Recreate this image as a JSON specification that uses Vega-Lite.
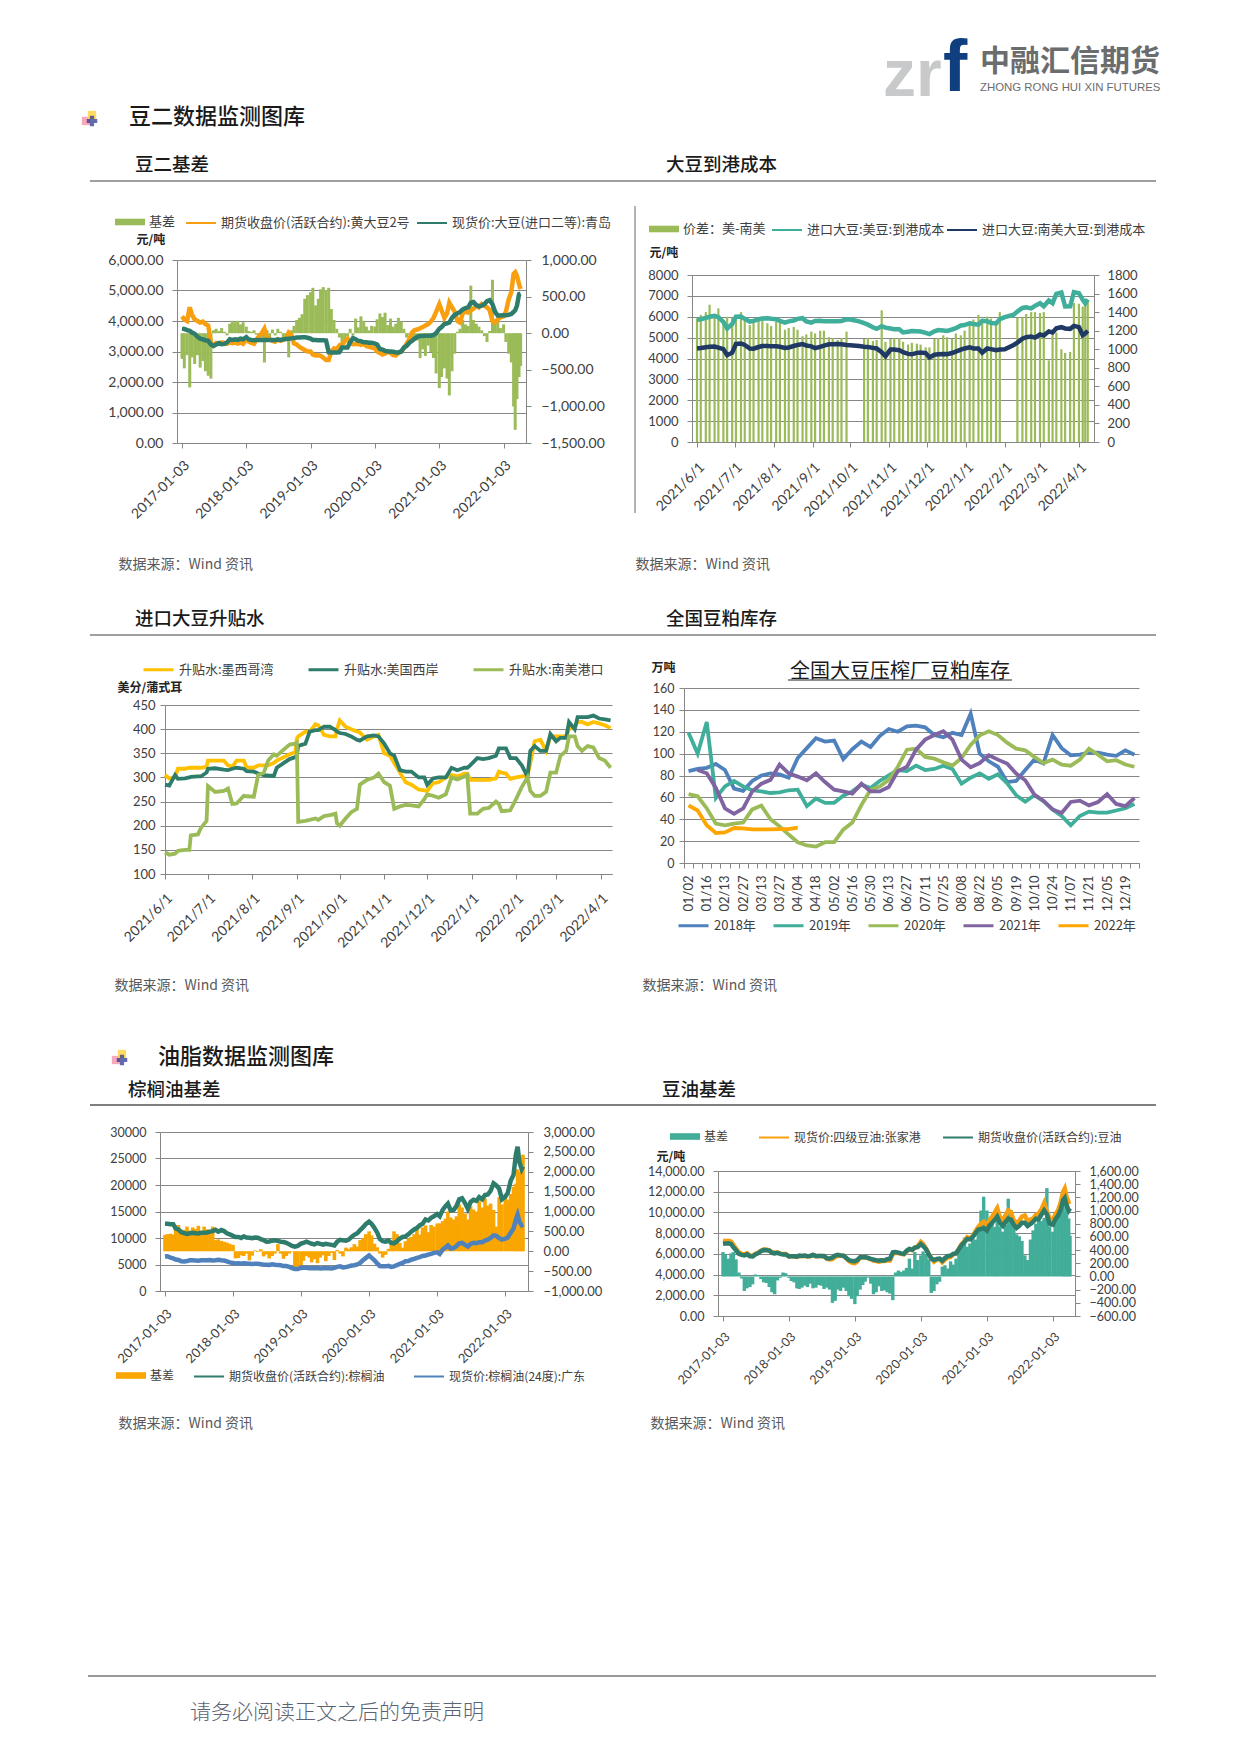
{"$schema":"https://vega.github.io/schema/vega-lite/v6.json","background":"white","padding":0,"bounds":"flush","spacing":0,"center":false,"resolve":{"scale":{"color":"independent"},"legend":{"color":"independent"}},
"config":{"view":{"stroke":null},"point":{"size":1,"strokeWidth":0},"title":{"anchor":"start","frame":"group","offset":0,"baseline":"middle","font":"Noto Sans CJK SC","color":"#1a1a1a","fontWeight":500},"axis":{"domainColor":"#868686","tickColor":"#868686","gridColor":"#868686","labelColor":"#404040","labelFont":"Lato","tickSize":5,"titleFont":"Noto Sans CJK SC","labelOverlap":false,"titleFontWeight":"normal","titleColor":"#595959","titleAlign":"left","titleBaseline":"middle"},"legend":{"title":null,"orient":"none","labelFont":"Noto Sans CJK SC","labelColor":"#404040","labelOffset":4,"symbolSize":900,"symbolStrokeWidth":2,"symbolType":"stroke","labelLimit":400}},
"vconcat":[
{"width":1,"height":1,"title":{"text":"中融汇信期货","subtitle":"ZHONG RONG HUI XIN FUTURES","dx":980,"dy":97,"fontSize":30,"fontWeight":700,"color":"#6B6C6E","subtitleFont":"Liberation Sans","subtitleFontSize":11.4,"subtitleColor":"#6B6C6E","subtitlePadding":4.5},"data":{"values":[{}]},"mark":{"type":"point","opacity":0},"encoding":{}},
{"width":1,"height":1,"title":{"text":"f","dx":943,"dy":167,"fontSize":73,"font":"Liberation Sans","fontWeight":700,"color":"#0F3F7F","baseline":"alphabetic"},"data":{"values":[{}]},"mark":{"type":"point","opacity":0},"encoding":{}},
{"width":1,"height":1,"title":{"text":"zr","dx":883,"dy":164,"fontSize":66,"font":"Liberation Sans","fontWeight":700,"color":"#C8C9CA","baseline":"alphabetic"},"data":{"values":[{}]},"mark":{"type":"point","opacity":0},"encoding":{}},
{"width":1,"height":1,"title":{"text":"豆二基差","dx":135,"dy":175,"fontSize":18.5},"data":{"values":[{}]},"mark":{"type":"point","opacity":0},"encoding":{}},
{"width":1,"height":1,"title":{"text":"大豆到港成本","dx":666,"dy":174,"fontSize":18.5},"data":{"values":[{}]},"mark":{"type":"point","opacity":0},"encoding":{}},
{"width":177,"height":176,"title":{"text":"豆二数据监测图库","dx":129,"dy":128,"fontSize":22},"resolve":{"scale":{"x":"independent","y":"independent","color":"independent"}},"layer":[
{"data":{"values":[{"a":0,"b":1}]},"mark":{"type":"rule","color":"#7F7F7F","strokeWidth":1.4},"encoding":{"x":{"field":"a","type":"quantitative","scale":{"domain":[0,1],"range":[90,1156]},"axis":null},"x2":{"field":"b"},"y":{"datum":0,"type":"quantitative","scale":{"domain":[0,1]},"axis":null}}},
{"data":{"values":[{"p":"pink"},{"p":"yellow"}]},"mark":{"type":"point","filled":true,"shape":"square","size":70,"opacity":0.85},"encoding":{"x":{"field":"p","type":"nominal","scale":{"type":"point","domain":["pink","yellow"],"range":[86,92],"padding":0},"axis":null},"y":{"field":"p","type":"nominal","scale":{"type":"point","domain":["pink","yellow"],"range":[116,110],"padding":0},"axis":null},"color":{"field":"p","type":"nominal","scale":{"domain":["pink","yellow"],"range":["#F49AB0","#FFD54A"]},"legend":null}}},
{"data":{"values":[{"p":"blue"}]},"mark":{"type":"point","filled":true,"shape":"cross","size":110,"color":"#1F2D8A"},"encoding":{"x":{"field":"p","type":"nominal","scale":{"type":"point","domain":["blue"],"range":[92,92],"padding":0},"axis":null},"y":{"field":"p","type":"nominal","scale":{"type":"point","domain":["blue"],"range":[116,116],"padding":0},"axis":null}}}]},
{"width":1,"height":1,"data":{"values":[{"a":0,"b":1}]},"mark":{"type":"rule","color":"#808080","strokeWidth":1.2},"encoding":{"x":{"datum":0,"type":"quantitative","scale":{"domain":[0,1],"range":[635,636]},"axis":null},"y":{"field":"a","type":"quantitative","scale":{"domain":[0,1],"range":[25,332]},"axis":null},"y2":{"field":"b"}}},
{"width":1,"height":78,"data":{"values":[{}]},"mark":{"type":"point","opacity":0},"encoding":{}},
{"hconcat":[{"width":177,"height":1,"data":{"values":[{}]},"mark":{"type":"point","opacity":0},"encoding":{}},
{"width":349,"height":183,"data":{"values":[
{"d":"2017-01-03","a":-350,"b":4150,"c":3750},{"d":"2017-01-16","a":-480,"b":4050,"c":3740},{"d":"2017-02-01","a":-300,"b":4000,"c":3700},{"d":"2017-02-16","a":-740,"b":4450,"c":3680},{"d":"2017-03-01","a":-330,"b":4200,"c":3620},{"d":"2017-03-16","a":-420,"b":4050,"c":3580},{"d":"2017-04-01","a":-300,"b":4000,"c":3480},{"d":"2017-04-16","a":-470,"b":3950,"c":3420},{"d":"2017-05-01","a":-380,"b":3980,"c":3400},{"d":"2017-05-16","a":-520,"b":3900,"c":3370},{"d":"2017-06-01","a":-580,"b":3850,"c":3350},{"d":"2017-06-16","a":-620,"b":3300,"c":3230},{"d":"2017-07-01","a":40,"b":3200,"c":3180},{"d":"2017-07-16","a":60,"b":3280,"c":3230},{"d":"2017-08-01","a":30,"b":3250,"c":3280},{"d":"2017-08-16","a":70,"b":3300,"c":3240},{"d":"2017-09-01","a":20,"b":3280,"c":3250},{"d":"2017-09-16","a":-30,"b":3250,"c":3300},{"d":"2017-10-01","a":130,"b":3300,"c":3400},{"d":"2017-10-16","a":170,"b":3270,"c":3380},{"d":"2017-11-01","a":150,"b":3290,"c":3400},{"d":"2017-11-16","a":170,"b":3260,"c":3380},{"d":"2017-12-01","a":120,"b":3300,"c":3420},{"d":"2017-12-16","a":150,"b":3250,"c":3400},
{"d":"2018-01-03","a":90,"b":3400,"c":3470},{"d":"2018-01-16","a":30,"b":3320,"c":3400},{"d":"2018-02-01","a":20,"b":3280,"c":3380},{"d":"2018-02-16","a":40,"b":3250,"c":3370},{"d":"2018-03-01","a":-20,"b":3380,"c":3380},{"d":"2018-03-16","a":-40,"b":3500,"c":3380},{"d":"2018-04-01","a":-60,"b":3600,"c":3380},{"d":"2018-04-16","a":-400,"b":3750,"c":3380},{"d":"2018-05-01","a":40,"b":3450,"c":3380},{"d":"2018-05-16","a":-60,"b":3400,"c":3380},{"d":"2018-06-01","a":50,"b":3350,"c":3380},{"d":"2018-06-16","a":-30,"b":3320,"c":3380},{"d":"2018-07-01","a":60,"b":3400,"c":3390},{"d":"2018-07-16","a":20,"b":3350,"c":3380},{"d":"2018-08-01","a":-50,"b":3380,"c":3400},{"d":"2018-08-16","a":-100,"b":3430,"c":3410},{"d":"2018-09-01","a":-330,"b":3620,"c":3420},{"d":"2018-09-16","a":40,"b":3550,"c":3430},{"d":"2018-10-01","a":100,"b":3260,"c":3440},{"d":"2018-10-16","a":180,"b":3230,"c":3460},{"d":"2018-11-01","a":210,"b":3150,"c":3460},{"d":"2018-11-16","a":260,"b":3100,"c":3470},{"d":"2018-12-01","a":470,"b":3050,"c":3470},{"d":"2018-12-16","a":520,"b":3000,"c":3450},
{"d":"2019-01-03","a":560,"b":3000,"c":3420},{"d":"2019-01-16","a":620,"b":2900,"c":3380},{"d":"2019-02-01","a":380,"b":2870,"c":3380},{"d":"2019-02-16","a":470,"b":2880,"c":3370},{"d":"2019-03-01","a":600,"b":2860,"c":3370},{"d":"2019-03-16","a":630,"b":2800,"c":3370},{"d":"2019-04-01","a":590,"b":2720,"c":3360},{"d":"2019-04-16","a":620,"b":2720,"c":2980},{"d":"2019-05-01","a":330,"b":3000,"c":2970},{"d":"2019-05-16","a":180,"b":3100,"c":2970},{"d":"2019-06-01","a":60,"b":3070,"c":2970},{"d":"2019-06-16","a":-60,"b":3200,"c":2980},{"d":"2019-07-01","a":-150,"b":3230,"c":3130},{"d":"2019-07-16","a":-100,"b":3330,"c":3130},{"d":"2019-08-01","a":-40,"b":3420,"c":3130},{"d":"2019-08-16","a":60,"b":3280,"c":3300},{"d":"2019-09-01","a":-30,"b":3240,"c":3440},{"d":"2019-09-16","a":200,"b":3250,"c":3400},{"d":"2019-10-01","a":80,"b":3250,"c":3350},{"d":"2019-10-16","a":230,"b":3220,"c":3340},{"d":"2019-11-01","a":170,"b":3260,"c":3300},{"d":"2019-11-16","a":90,"b":3180,"c":3300},{"d":"2019-12-01","a":40,"b":3150,"c":3290},{"d":"2019-12-16","a":100,"b":3130,"c":3290},
{"d":"2020-01-03","a":90,"b":3100,"c":3260},{"d":"2020-01-16","a":190,"b":3000,"c":3230},{"d":"2020-02-01","a":270,"b":2950,"c":3080},{"d":"2020-02-16","a":220,"b":2900,"c":3060},{"d":"2020-03-01","a":280,"b":2930,"c":3020},{"d":"2020-03-16","a":110,"b":3000,"c":3000},{"d":"2020-04-01","a":200,"b":2950,"c":3000},{"d":"2020-04-16","a":90,"b":2880,"c":2990},{"d":"2020-05-01","a":130,"b":2870,"c":2970},{"d":"2020-05-16","a":210,"b":2950,"c":2970},{"d":"2020-06-01","a":160,"b":3000,"c":3000},{"d":"2020-06-16","a":60,"b":3100,"c":3130},{"d":"2020-07-01","a":-60,"b":3250,"c":3180},{"d":"2020-07-16","a":-20,"b":3400,"c":3280},{"d":"2020-08-01","a":-130,"b":3620,"c":3350},{"d":"2020-08-16","a":-70,"b":3700,"c":3420},{"d":"2020-09-01","a":-100,"b":3720,"c":3480},{"d":"2020-09-16","a":-340,"b":3760,"c":3510},{"d":"2020-10-01","a":-220,"b":3800,"c":3510},{"d":"2020-10-16","a":-310,"b":3850,"c":3520},{"d":"2020-11-01","a":-170,"b":3900,"c":3520},{"d":"2020-11-16","a":-260,"b":3980,"c":3520},{"d":"2020-12-01","a":-340,"b":4100,"c":3540},{"d":"2020-12-16","a":-550,"b":4300,"c":3600},
{"d":"2021-01-03","a":-750,"b":4550,"c":3740},{"d":"2021-01-16","a":-600,"b":4350,"c":3800},{"d":"2021-02-01","a":-480,"b":4100,"c":3900},{"d":"2021-02-16","a":-620,"b":4250,"c":3920},{"d":"2021-03-01","a":-850,"b":4600,"c":3950},{"d":"2021-03-16","a":-520,"b":4450,"c":4100},{"d":"2021-04-01","a":-280,"b":4300,"c":4200},{"d":"2021-04-16","a":20,"b":4000,"c":4250},{"d":"2021-05-01","a":60,"b":3950,"c":4300},{"d":"2021-05-16","a":180,"b":4250,"c":4380},{"d":"2021-06-01","a":120,"b":4300,"c":4420},{"d":"2021-06-16","a":100,"b":4280,"c":4450},{"d":"2021-07-01","a":650,"b":4350,"c":4600},{"d":"2021-07-16","a":180,"b":4400,"c":4620},{"d":"2021-08-01","a":130,"b":4500,"c":4520},{"d":"2021-08-16","a":90,"b":4450,"c":4480},{"d":"2021-09-01","a":40,"b":4560,"c":4500},{"d":"2021-09-16","a":-40,"b":4500,"c":4550},{"d":"2021-10-01","a":-120,"b":4450,"c":4650},{"d":"2021-10-16","a":30,"b":4350,"c":4680},{"d":"2021-11-01","a":730,"b":4000,"c":4550},{"d":"2021-11-16","a":160,"b":3950,"c":4300},{"d":"2021-12-01","a":170,"b":4050,"c":4180},{"d":"2021-12-16","a":70,"b":4120,"c":4180},
{"d":"2022-01-03","a":120,"b":4150,"c":4190},{"d":"2022-01-16","a":-120,"b":4300,"c":4190},{"d":"2022-02-01","a":-280,"b":4700,"c":4200},{"d":"2022-02-16","a":-400,"b":4950,"c":4230},{"d":"2022-03-01","a":-1000,"b":5550,"c":4300},{"d":"2022-03-10","a":-1320,"b":5600,"c":4350},{"d":"2022-03-20","a":-900,"b":5480,"c":4500},{"d":"2022-04-01","a":-600,"b":5200,"c":4880},{"d":"2022-04-10","a":-450,"b":5050,"c":4900}]},
"encoding":{"x":{"field":"d","type":"temporal","scale":{"domain":["2017-01-03","2022-04-12"],"nice":false},"axis":{"values":["2017-01-03","2018-01-03","2019-01-03","2020-01-03","2021-01-03","2022-01-03"],"format":"%Y-%m-%d","labelAngle":-45,"labelFontSize":14,"labelPadding":10,"grid":false,"title":"数据来源：Wind 资讯","titleX":-59,"titleY":121,"titleFontSize":14}}},
"resolve":{"scale":{"y":"independent","color":"independent"},"legend":{"color":"independent"}},
"layer":[
{"mark":{"type":"bar","width":3},"encoding":{"y":{"field":"a","type":"quantitative","scale":{"domain":[-1500,1000],"nice":false},"axis":{"orient":"right","values":[-1500,-1000,-500,0,500,1000],"format":",.2f","labelFontSize":14,"labelPadding":10,"grid":false,"title":null}},"color":{"datum":"基差","scale":{"domain":["基差"],"range":["#9BBB59"]},"legend":{"legendX":-62,"legendY":-53,"symbolType":"M-1,-0.22H1V0.22H-1Z","symbolStrokeWidth":0,"labelFontSize":13}}}},
{"mark":{"type":"line","strokeWidth":4.5},"encoding":{"y":{"field":"b","type":"quantitative","scale":{"domain":[0,6000],"nice":false},"axis":{"orient":"left","values":[0,1000,2000,3000,4000,5000,6000],"format":",.2f","labelFontSize":14,"labelPadding":9,"grid":true,"title":"元/吨","titleAngle":0,"titleX":-41,"titleY":-21,"titleFontSize":12,"titleFontWeight":"bold","titleColor":"#222222"}},"color":{"datum":"期货收盘价(活跃合约):黄大豆2号","scale":{"domain":["期货收盘价(活跃合约):黄大豆2号"],"range":["#F79F0F"]},"legend":{"legendX":8,"legendY":-53,"labelFontSize":13}}}},
{"mark":{"type":"line","strokeWidth":4.5},"encoding":{"y":{"field":"c","type":"quantitative","scale":{"domain":[0,6000],"nice":false},"axis":null},"color":{"datum":"现货价:大豆(进口二等):青岛","scale":{"domain":["现货价:大豆(进口二等):青岛"],"range":["#2E7C6B"]},"legend":{"legendX":239,"legendY":-53,"labelFontSize":13}}}}]}],"bounds":"flush","spacing":0,"resolve":{"scale":{"color":"independent"},"legend":{"color":"independent"}}},
{"width":1,"height":15,"data":{"values":[{}]},"mark":{"type":"point","opacity":0},"encoding":{}},
{"hconcat":[{"width":692,"height":1,"data":{"values":[{}]},"mark":{"type":"point","opacity":0},"encoding":{}},
{"width":402,"height":167,"data":{"values":[
{"d":"2021-06-01","a":1330,"b":5850,"c":4480},{"d":"2021-06-04","a":1370,"b":5880,"c":4500},{"d":"2021-06-08","a":1400,"b":5950,"c":4540},{"d":"2021-06-11","a":1480,"b":6000,"c":4560},{"d":"2021-06-15","a":1360,"b":6040,"c":4570},{"d":"2021-06-18","a":1440,"b":5980,"c":4520},{"d":"2021-06-22","a":1300,"b":5750,"c":4450},{"d":"2021-06-25","a":1350,"b":5440,"c":4160},{"d":"2021-06-29","a":1340,"b":5650,"c":4280},{"d":"2021-07-02","a":1340,"b":6000,"c":4700},{"d":"2021-07-06","a":1400,"b":6010,"c":4720},{"d":"2021-07-09","a":1310,"b":5900,"c":4650},{"d":"2021-07-13","a":1260,"b":5770,"c":4480},{"d":"2021-07-16","a":1290,"b":5800,"c":4470},{"d":"2021-07-20","a":1330,"b":5880,"c":4550},{"d":"2021-07-23","a":1320,"b":5920,"c":4600},{"d":"2021-07-27","a":1280,"b":5930,"c":4600},{"d":"2021-07-30","a":1250,"b":5900,"c":4590},{"d":"2021-08-03","a":1300,"b":5880,"c":4590},{"d":"2021-08-06","a":1290,"b":5800,"c":4560},{"d":"2021-08-10","a":1210,"b":5720,"c":4510},{"d":"2021-08-13","a":1230,"b":5780,"c":4530},{"d":"2021-08-17","a":1240,"b":5820,"c":4600},{"d":"2021-08-20","a":1210,"b":5900,"c":4650},{"d":"2021-08-24","a":1140,"b":5930,"c":4690},{"d":"2021-08-27","a":1160,"b":5780,"c":4620},{"d":"2021-08-31","a":1190,"b":5720,"c":4580},{"d":"2021-09-03","a":1170,"b":5800,"c":4500},{"d":"2021-09-07","a":1200,"b":5810,"c":4560},{"d":"2021-09-10","a":1200,"b":5780,"c":4620},{"d":"2021-09-14","a":1130,"b":5790,"c":4680},{"d":"2021-09-17","a":1120,"b":5780,"c":4680},{"d":"2021-09-21","a":1100,"b":5790,"c":4690},{"d":"2021-09-24","a":1120,"b":5800,"c":4680},{"d":"2021-09-28","a":1190,"b":5880,"c":4650},{"d":"2021-10-01","a":null,"b":5870,"c":4640},{"d":"2021-10-08","a":null,"b":5780,"c":4600},{"d":"2021-10-12","a":1110,"b":5690,"c":4560},{"d":"2021-10-15","a":1120,"b":5620,"c":4550},{"d":"2021-10-19","a":1090,"b":5500,"c":4510},{"d":"2021-10-22","a":1100,"b":5420,"c":4480},{"d":"2021-10-26","a":1420,"b":5550,"c":4300},{"d":"2021-10-29","a":1080,"b":5480,"c":4110},{"d":"2021-11-02","a":1110,"b":5440,"c":4430},{"d":"2021-11-05","a":1120,"b":5400,"c":4430},{"d":"2021-11-09","a":1120,"b":5400,"c":4400},{"d":"2021-11-12","a":1080,"b":5250,"c":4300},{"d":"2021-11-16","a":1050,"b":5280,"c":4220},{"d":"2021-11-19","a":1070,"b":5320,"c":4200},{"d":"2021-11-23","a":1060,"b":5310,"c":4270},{"d":"2021-11-26","a":1050,"b":5290,"c":4290},{"d":"2021-11-30","a":1020,"b":5230,"c":4260},{"d":"2021-12-03","a":1020,"b":5170,"c":4050},{"d":"2021-12-07","a":1110,"b":5300,"c":4180},{"d":"2021-12-10","a":1120,"b":5360,"c":4200},{"d":"2021-12-14","a":1150,"b":5340,"c":4220},{"d":"2021-12-17","a":1130,"b":5320,"c":4210},{"d":"2021-12-21","a":1110,"b":5390,"c":4260},{"d":"2021-12-24","a":1170,"b":5450,"c":4330},{"d":"2021-12-28","a":1150,"b":5580,"c":4420},{"d":"2021-12-31","a":1200,"b":5600,"c":4480},{"d":"2022-01-04","a":1300,"b":5690,"c":4540},{"d":"2022-01-07","a":1320,"b":5650,"c":4480},{"d":"2022-01-11","a":1370,"b":5620,"c":4480},{"d":"2022-01-14","a":1300,"b":5810,"c":4280},{"d":"2022-01-18","a":1350,"b":5790,"c":4480},{"d":"2022-01-21","a":1330,"b":5700,"c":4450},{"d":"2022-01-25","a":1280,"b":5680,"c":4400},{"d":"2022-01-28","a":1400,"b":5880,"c":4430},{"d":"2022-02-01","a":null,"b":5980,"c":4440},{"d":"2022-02-08","a":null,"b":6100,"c":4650},{"d":"2022-02-11","a":1340,"b":6250,"c":4760},{"d":"2022-02-15","a":1350,"b":6420,"c":4950},{"d":"2022-02-18","a":1380,"b":6450,"c":5020},{"d":"2022-02-22","a":1400,"b":6400,"c":5050},{"d":"2022-02-25","a":1400,"b":6520,"c":5000},{"d":"2022-03-01","a":1390,"b":6650,"c":5150},{"d":"2022-03-04","a":1400,"b":6500,"c":5100},{"d":"2022-03-08","a":880,"b":6780,"c":5300},{"d":"2022-03-11","a":1200,"b":6650,"c":5250},{"d":"2022-03-14","a":1180,"b":7100,"c":5450},{"d":"2022-03-18","a":1000,"b":7160,"c":5500},{"d":"2022-03-21","a":960,"b":6490,"c":5440},{"d":"2022-03-25","a":970,"b":6500,"c":5420},{"d":"2022-03-28","a":1500,"b":7180,"c":5560},{"d":"2022-04-01","a":1490,"b":7130,"c":5500},{"d":"2022-04-04","a":1460,"b":6810,"c":5120},{"d":"2022-04-06","a":1490,"b":6650,"c":5200},{"d":"2022-04-08","a":1530,"b":6840,"c":5330}]},
"encoding":{"x":{"field":"d","type":"temporal","scale":{"domain":["2021-06-01","2022-04-09"],"nice":false},"axis":{"values":["2021-06-01","2021-07-01","2021-08-01","2021-09-01","2021-10-01","2021-11-01","2021-12-01","2022-01-01","2022-02-01","2022-03-01","2022-04-01"],"format":"%Y/%-m/%-d","labelAngle":-45,"labelFontSize":14,"labelPadding":13,"grid":false,"title":"数据来源：Wind 资讯","titleX":-57,"titleY":122,"titleFontSize":14}}},
"resolve":{"scale":{"y":"independent","color":"independent"},"legend":{"color":"independent"}},
"layer":[
{"mark":{"type":"bar","width":2.2},"encoding":{"y":{"field":"a","type":"quantitative","scale":{"domain":[0,1800],"nice":false},"axis":{"orient":"right","values":[0,200,400,600,800,1000,1200,1400,1600,1800],"labelFontSize":13,"labelPadding":8,"grid":false,"title":null,"format":"d"}},"color":{"datum":"价差：美-南美","scale":{"domain":["价差：美-南美"],"range":["#9BBB59"]},"legend":{"legendX":-43,"legendY":-61,"symbolType":"M-1,-0.22H1V0.22H-1Z","symbolStrokeWidth":0,"labelFontSize":13}}}},
{"mark":{"type":"line","strokeWidth":4.5},"encoding":{"y":{"field":"b","type":"quantitative","scale":{"domain":[0,8000],"nice":false},"axis":{"orient":"left","values":[0,1000,2000,3000,4000,5000,6000,7000,8000],"format":"d","labelFontSize":13,"labelPadding":9,"grid":true,"title":"元/吨","titleAngle":0,"titleX":-43,"titleY":-23,"titleFontSize":12,"titleFontWeight":"bold","titleColor":"#222222"}},"color":{"datum":"进口大豆:美豆:到港成本","scale":{"domain":["进口大豆:美豆:到港成本"],"range":["#3FAE9A"]},"legend":{"legendX":79,"legendY":-61,"labelFontSize":13}}}},
{"mark":{"type":"line","strokeWidth":4.5},"encoding":{"y":{"field":"c","type":"quantitative","scale":{"domain":[0,8000],"nice":false},"axis":null},"color":{"datum":"进口大豆:南美大豆:到港成本","scale":{"domain":["进口大豆:南美大豆:到港成本"],"range":["#1F3864"]},"legend":{"legendX":254,"legendY":-61,"labelFontSize":13}}}}]}],"bounds":"flush","spacing":0,"resolve":{"scale":{"color":"independent"},"legend":{"color":"independent"}}},
{"width":1,"height":1,"title":{"text":"全国豆粕库存","dx":666,"dy":357,"fontSize":18.5},"data":{"values":[{}]},"mark":{"type":"point","opacity":0},"encoding":{}},
{"width":165,"height":359,"title":{"text":"进口大豆升贴水","dx":135,"dy":356,"fontSize":18.5},"resolve":{"scale":{"x":"independent","y":"independent"}},"data":{"values":[{"a":0,"b":1}]},"mark":{"type":"rule","color":"#7F7F7F","strokeWidth":1.4},"encoding":{"x":{"field":"a","type":"quantitative","scale":{"domain":[0,1],"range":[90,1156]},"axis":null},"x2":{"field":"b"},"y":{"datum":0,"type":"quantitative","scale":{"domain":[0,1]},"axis":null}}},
{"width":1,"height":1,"title":{"text":"全国大豆压榨厂豆粕库存","dx":900,"dy":51,"fontSize":20,"align":"center","fontWeight":400},"data":{"values":[{"a":0,"b":1}]},"mark":{"type":"rule","color":"#222222","strokeWidth":1.2},"encoding":{"x":{"field":"a","type":"quantitative","scale":{"domain":[0,1],"range":[788,1012]},"axis":null},"x2":{"field":"b"},"y":{"datum":0,"type":"quantitative","scale":{"domain":[0,1],"range":[45,46]},"axis":null}}},
{"width":1,"height":52,"data":{"values":[{}]},"mark":{"type":"point","opacity":0},"encoding":{}},
{"hconcat":[{"width":684,"height":1,"data":{"values":[{}]},"mark":{"type":"point","opacity":0},"encoding":{}},
{"width":455,"height":175,"data":{"values":[
{"w":"01/02","p":84,"q":119,"r":63,"s":null,"u":52.7},{"w":"01/09","p":86,"q":100,"r":61,"s":85,"u":48},{"w":"01/16","p":87,"q":129,"r":50,"s":82,"u":34.5},{"w":"01/23","p":90.5,"q":59.5,"r":36,"s":68.6,"u":27.4},{"w":"02/13","p":85,"q":70,"r":34.5,"s":50,"u":28},{"w":"02/20","p":68,"q":75,"r":36,"s":45,"u":32},{"w":"02/27","p":66,"q":70,"r":37,"s":50,"u":31.7},{"w":"03/06","p":75,"q":66.5,"r":49,"s":65.5,"u":30.8},{"w":"03/13","p":80,"q":65.5,"r":52.5,"s":72.5,"u":30.8},{"w":"03/20","p":82,"q":64,"r":40,"s":76,"u":30.8},{"w":"03/27","p":81,"q":64.6,"r":33.5,"s":90,"u":31},{"w":"03/30","p":78,"q":66.5,"r":26,"s":82,"u":31},{"w":"04/04","p":96,"q":67,"r":19,"s":79,"u":32.3},{"w":"04/11","p":105,"q":52,"r":16,"s":75.6,"u":null},{"w":"04/18","p":114,"q":59,"r":15,"s":82,"u":null},{"w":"04/25","p":111,"q":55,"r":19,"s":74,"u":null},{"w":"05/02","p":112,"q":55,"r":19,"s":67,"u":null},{"w":"05/09","p":95,"q":61.5,"r":30.5,"s":65.5,"u":null},{"w":"05/16","p":104,"q":65.5,"r":37,"s":63.4,"u":null},{"w":"05/23","p":111,"q":71.6,"r":53,"s":72.5,"u":null},{"w":"05/30","p":106,"q":68.5,"r":67,"s":65.5,"u":null},{"w":"06/06","p":116,"q":75,"r":70,"s":65.5,"u":null},{"w":"06/13","p":122.5,"q":80,"r":76,"s":69.5,"u":null},{"w":"06/20","p":120,"q":85,"r":88,"s":84,"u":null},{"w":"06/27","p":125,"q":84,"r":103.6,"s":88,"u":null},{"w":"07/04","p":125.6,"q":89,"r":104.5,"s":103.6,"u":null},{"w":"07/11","p":124,"q":85,"r":97,"s":112.8,"u":null},{"w":"07/18","p":117,"q":86,"r":95.4,"s":117,"u":null},{"w":"07/25","p":115,"q":89,"r":92,"s":120.4,"u":null},{"w":"08/01","p":119,"q":86,"r":89,"s":112.8,"u":null},{"w":"08/08","p":117,"q":72.5,"r":96,"s":94.5,"u":null},{"w":"08/15","p":136.5,"q":78,"r":108,"s":87.5,"u":null},{"w":"08/22","p":100,"q":82,"r":116.7,"s":91.4,"u":null},{"w":"08/29","p":93,"q":77,"r":120.4,"s":98.5,"u":null},{"w":"09/05","p":88,"q":81,"r":117,"s":94.5,"u":null},{"w":"09/12","p":74,"q":73,"r":110,"s":91,"u":null},{"w":"09/19","p":75,"q":62,"r":104.5,"s":81.7,"u":null},{"w":"09/26","p":85,"q":56,"r":103,"s":75.6,"u":null},{"w":"10/10","p":94.5,"q":62,"r":97,"s":62.5,"u":null},{"w":"10/17","p":91,"q":56.5,"r":91.4,"s":57,"u":null},{"w":"10/24","p":117,"q":49,"r":94.5,"s":49,"u":null},{"w":"10/31","p":105,"q":43,"r":90,"s":45.7,"u":null},{"w":"11/07","p":98.5,"q":34.5,"r":89,"s":55.8,"u":null},{"w":"11/14","p":99,"q":43,"r":94.5,"s":57,"u":null},{"w":"11/21","p":101,"q":47,"r":104.5,"s":52.7,"u":null},{"w":"11/28","p":101,"q":46,"r":99,"s":55.8,"u":null},{"w":"12/05","p":99,"q":46,"r":93,"s":63,"u":null},{"w":"12/12","p":98,"q":48,"r":94,"s":54,"u":null},{"w":"12/19","p":103,"q":50,"r":90,"s":52,"u":null},{"w":"12/26","p":99,"q":54,"r":88,"s":59.4,"u":null}]},
"encoding":{"x":{"field":"w","type":"nominal","sort":null,"scale":{"type":"band","paddingInner":0,"paddingOuter":0},"axis":{"tickBand":"extent","labelAngle":-90,"labelFontSize":13,"labelPadding":7,"grid":false,"labelExpr":"indexof('01/02,01/16,02/13,02/27,03/13,03/27,04/04,04/18,05/02,05/16,05/30,06/13,06/27,07/11,07/25,08/08,08/22,09/05,09/19,10/10,10/24,11/07,11/21,12/05,12/19',datum.label)>=0?datum.label:''","title":"数据来源：Wind 资讯","titleX":-42,"titleY":122,"titleFontSize":14}}},
"resolve":{"scale":{"y":"independent"}},
"layer":[
{"mark":{"type":"line","strokeWidth":3.8},"encoding":{"y":{"field":"p","type":"quantitative","scale":{"domain":[0,160],"nice":false},"axis":{"values":[0,20,40,60,80,100,120,140,160],"labelFontSize":12.5,"labelPadding":5,"grid":true,"title":"万吨","titleAngle":0,"titleX":-33,"titleY":-21,"titleFontSize":12,"titleFontWeight":"bold","titleColor":"#222222"}},"color":{"datum":"2018年","scale":{"domain":["2018年","2019年","2020年","2021年","2022年"],"range":["#4F81BD","#3FAE9A","#9BBB59","#8064A2","#FFA500"]},"legend":{"legendX":-7,"legendY":221,"direction":"horizontal","columns":5,"columnPadding":11,"labelFontSize":13,"symbolStrokeWidth":3}}}},
{"mark":{"type":"line","strokeWidth":3.8},"encoding":{"y":{"field":"q","type":"quantitative","scale":{"domain":[0,160],"nice":false},"axis":null},"color":{"datum":"2019年","scale":{"domain":["2018年","2019年","2020年","2021年","2022年"],"range":["#4F81BD","#3FAE9A","#9BBB59","#8064A2","#FFA500"]}}}},
{"mark":{"type":"line","strokeWidth":3.8},"encoding":{"y":{"field":"r","type":"quantitative","scale":{"domain":[0,160],"nice":false},"axis":null},"color":{"datum":"2020年","scale":{"domain":["2018年","2019年","2020年","2021年","2022年"],"range":["#4F81BD","#3FAE9A","#9BBB59","#8064A2","#FFA500"]}}}},
{"mark":{"type":"line","strokeWidth":3.8},"encoding":{"y":{"field":"s","type":"quantitative","scale":{"domain":[0,160],"nice":false},"axis":null},"color":{"datum":"2021年","scale":{"domain":["2018年","2019年","2020年","2021年","2022年"],"range":["#4F81BD","#3FAE9A","#9BBB59","#8064A2","#FFA500"]}}}},
{"mark":{"type":"line","strokeWidth":3.8},"encoding":{"y":{"field":"u","type":"quantitative","scale":{"domain":[0,160],"nice":false},"axis":null},"color":{"datum":"2022年","scale":{"domain":["2018年","2019年","2020年","2021年","2022年"],"range":["#4F81BD","#3FAE9A","#9BBB59","#8064A2","#FFA500"]}}}}]}],"bounds":"flush","spacing":0,"resolve":{"scale":{"color":"independent"},"legend":{"color":"independent"}}},
{"width":1,"height":17,"data":{"values":[{}]},"mark":{"type":"point","opacity":0},"encoding":{}},
{"hconcat":[{"width":165,"height":1,"data":{"values":[{}]},"mark":{"type":"point","opacity":0},"encoding":{}},
{"width":447,"height":169,"data":{"values":[
{"d":"2021-06-01","y":305,"t":285,"g":145},{"d":"2021-06-04","y":298,"t":283,"g":140},{"d":"2021-06-08","y":300,"t":305,"g":142},{"d":"2021-06-10","y":318,"t":297,"g":148},{"d":"2021-06-15","y":318,"t":298,"g":150},{"d":"2021-06-18","y":320,"t":300,"g":150},{"d":"2021-06-19","y":320,"t":301,"g":180},{"d":"2021-06-24","y":320,"t":302,"g":182},{"d":"2021-06-26","y":320,"t":302,"g":195},{"d":"2021-06-30","y":322,"t":310,"g":210},{"d":"2021-07-01","y":335,"t":318,"g":282},{"d":"2021-07-06","y":335,"t":319,"g":270},{"d":"2021-07-12","y":335,"t":316,"g":272},{"d":"2021-07-15","y":325,"t":315,"g":277},{"d":"2021-07-18","y":322,"t":318,"g":245},{"d":"2021-07-21","y":335,"t":320,"g":246},{"d":"2021-07-26","y":335,"t":318,"g":262},{"d":"2021-07-28","y":320,"t":313,"g":261},{"d":"2021-08-02","y":320,"t":312,"g":260},{"d":"2021-08-05","y":325,"t":308,"g":305},{"d":"2021-08-09","y":325,"t":305,"g":310},{"d":"2021-08-12","y":325,"t":304,"g":335},{"d":"2021-08-16","y":330,"t":303,"g":348},{"d":"2021-08-18","y":335,"t":320,"g":345},{"d":"2021-08-23","y":342,"t":330,"g":358},{"d":"2021-08-27","y":348,"t":338,"g":368},{"d":"2021-08-31","y":352,"t":342,"g":370},{"d":"2021-09-01","y":380,"t":345,"g":372},{"d":"2021-09-02","y":385,"t":365,"g":208},{"d":"2021-09-07","y":395,"t":370,"g":210},{"d":"2021-09-10","y":395,"t":395,"g":212},{"d":"2021-09-14","y":410,"t":398,"g":215},{"d":"2021-09-16","y":408,"t":398,"g":212},{"d":"2021-09-20","y":388,"t":405,"g":220},{"d":"2021-09-24","y":385,"t":405,"g":222},{"d":"2021-09-28","y":385,"t":398,"g":225},{"d":"2021-09-29","y":400,"t":395,"g":205},{"d":"2021-10-01","y":418,"t":392,"g":200},{"d":"2021-10-05","y":405,"t":390,"g":215},{"d":"2021-10-09","y":400,"t":385,"g":228},{"d":"2021-10-13","y":395,"t":378,"g":235},{"d":"2021-10-15","y":393,"t":376,"g":285},{"d":"2021-10-20","y":378,"t":385,"g":295},{"d":"2021-10-25","y":385,"t":387,"g":300},{"d":"2021-10-28","y":388,"t":385,"g":308},{"d":"2021-11-01","y":350,"t":370,"g":290},{"d":"2021-11-05","y":345,"t":350,"g":283},{"d":"2021-11-08","y":330,"t":345,"g":235},{"d":"2021-11-12","y":310,"t":315,"g":240},{"d":"2021-11-16","y":290,"t":312,"g":243},{"d":"2021-11-20","y":285,"t":312,"g":242},{"d":"2021-11-25","y":275,"t":300,"g":240},{"d":"2021-11-29","y":273,"t":300,"g":255},{"d":"2021-12-01","y":272,"t":285,"g":265},{"d":"2021-12-05","y":288,"t":298,"g":262},{"d":"2021-12-09","y":290,"t":300,"g":258},{"d":"2021-12-14","y":300,"t":300,"g":265},{"d":"2021-12-18","y":305,"t":320,"g":300},{"d":"2021-12-22","y":302,"t":315,"g":296},{"d":"2021-12-27","y":308,"t":320,"g":302},{"d":"2021-12-29","y":308,"t":320,"g":305},{"d":"2021-12-31","y":295,"t":325,"g":225},{"d":"2022-01-05","y":295,"t":340,"g":225},{"d":"2022-01-09","y":295,"t":338,"g":235},{"d":"2022-01-13","y":295,"t":340,"g":237},{"d":"2022-01-18","y":298,"t":345,"g":250},{"d":"2022-01-20","y":312,"t":360,"g":245},{"d":"2022-01-22","y":310,"t":360,"g":230},{"d":"2022-01-25","y":308,"t":360,"g":231},{"d":"2022-01-28","y":297,"t":340,"g":232},{"d":"2022-02-01","y":300,"t":340,"g":255},{"d":"2022-02-05","y":302,"t":325,"g":280},{"d":"2022-02-09","y":304,"t":302,"g":300},{"d":"2022-02-11","y":330,"t":355,"g":272},{"d":"2022-02-14","y":375,"t":365,"g":262},{"d":"2022-02-18","y":378,"t":355,"g":262},{"d":"2022-02-22","y":355,"t":355,"g":270},{"d":"2022-02-25","y":385,"t":390,"g":310},{"d":"2022-03-01","y":385,"t":375,"g":310},{"d":"2022-03-04","y":385,"t":382,"g":345},{"d":"2022-03-08","y":385,"t":382,"g":355},{"d":"2022-03-10","y":400,"t":415,"g":385},{"d":"2022-03-14","y":405,"t":400,"g":385},{"d":"2022-03-16","y":415,"t":425,"g":365},{"d":"2022-03-19","y":415,"t":425,"g":355},{"d":"2022-03-23","y":410,"t":425,"g":365},{"d":"2022-03-27","y":415,"t":428,"g":362},{"d":"2022-03-31","y":412,"t":422,"g":340},{"d":"2022-04-04","y":408,"t":420,"g":335},{"d":"2022-04-08","y":402,"t":418,"g":320}]},
"encoding":{"x":{"field":"d","type":"temporal","scale":{"domain":["2021-06-01","2022-04-09"],"nice":false},"axis":{"values":["2021-06-01","2021-07-01","2021-08-01","2021-09-01","2021-10-01","2021-11-01","2021-12-01","2022-01-01","2022-02-01","2022-03-01","2022-04-01"],"format":"%Y/%-m/%-d","labelAngle":-45,"labelFontSize":14,"labelPadding":12,"grid":false,"title":"数据来源：Wind 资讯","titleX":-51,"titleY":111,"titleFontSize":14}}},
"resolve":{"scale":{"y":"independent"}},
"layer":[
{"mark":{"type":"line","strokeWidth":3.8},"encoding":{"y":{"field":"y","type":"quantitative","scale":{"domain":[100,450],"nice":false},"axis":{"values":[100,150,200,250,300,350,400,450],"labelFontSize":13,"labelPadding":5,"grid":true,"title":"美分/蒲式耳","titleAngle":0,"titleX":-48,"titleY":-18,"titleFontSize":12,"titleFontWeight":"bold","titleColor":"#222222"}},"color":{"datum":"升贴水:墨西哥湾","scale":{"domain":["升贴水:墨西哥湾","升贴水:美国西岸","升贴水:南美港口"],"range":["#FFC000","#2E7C6B","#9BBB59"]},"legend":{"legendX":-23,"legendY":-52,"direction":"horizontal","columns":3,"columnPadding":28,"labelFontSize":13,"symbolStrokeWidth":3}}}},
{"mark":{"type":"line","strokeWidth":3.8},"encoding":{"y":{"field":"t","type":"quantitative","scale":{"domain":[100,450],"nice":false},"axis":null},"color":{"datum":"升贴水:美国西岸","scale":{"domain":["升贴水:墨西哥湾","升贴水:美国西岸","升贴水:南美港口"],"range":["#FFC000","#2E7C6B","#9BBB59"]}}}},
{"mark":{"type":"line","strokeWidth":3.8},"encoding":{"y":{"field":"g","type":"quantitative","scale":{"domain":[100,450],"nice":false},"axis":null},"color":{"datum":"升贴水:南美港口","scale":{"domain":["升贴水:墨西哥湾","升贴水:美国西岸","升贴水:南美港口"],"range":["#FFC000","#2E7C6B","#9BBB59"]}}}}]}],"bounds":"flush","spacing":0,"resolve":{"scale":{"color":"independent"},"legend":{"color":"independent"}}},
{"width":1,"height":1,"title":{"text":"棕榈油基差","dx":128,"dy":398,"fontSize":18.5},"data":{"values":[{}]},"mark":{"type":"point","opacity":0},"encoding":{}},
{"width":1,"height":1,"title":{"text":"豆油基差","dx":662,"dy":397,"fontSize":18.5},"data":{"values":[{}]},"mark":{"type":"point","opacity":0},"encoding":{}},
{"width":160,"height":398,"title":{"text":"油脂数据监测图库","dx":158,"dy":366,"fontSize":22},"resolve":{"scale":{"x":"independent","y":"independent","color":"independent"}},"layer":[
{"data":{"values":[{"a":0,"b":1}]},"mark":{"type":"rule","color":"#7F7F7F","strokeWidth":2},"encoding":{"x":{"field":"a","type":"quantitative","scale":{"domain":[0,1],"range":[90,1156]},"axis":null},"x2":{"field":"b"},"y":{"datum":0,"type":"quantitative","scale":{"domain":[0,1]},"axis":null}}},
{"data":{"values":[{"p":"pink"},{"p":"yellow"}]},"mark":{"type":"point","filled":true,"shape":"square","size":70,"opacity":0.85},"encoding":{"x":{"field":"p","type":"nominal","scale":{"type":"point","domain":["pink","yellow"],"range":[116,122],"padding":0},"axis":null},"y":{"field":"p","type":"nominal","scale":{"type":"point","domain":["pink","yellow"],"range":[353,347],"padding":0},"axis":null},"color":{"field":"p","type":"nominal","scale":{"domain":["pink","yellow"],"range":["#F49AB0","#FFD54A"]},"legend":null}}},
{"data":{"values":[{"p":"blue"}]},"mark":{"type":"point","filled":true,"shape":"cross","size":110,"color":"#1F2D8A"},"encoding":{"x":{"field":"p","type":"nominal","scale":{"type":"point","domain":["blue"],"range":[122,122],"padding":0},"axis":null},"y":{"field":"p","type":"nominal","scale":{"type":"point","domain":["blue"],"range":[353,353],"padding":0},"axis":null}}}]},
{"width":1,"height":27,"data":{"values":[{}]},"mark":{"type":"point","opacity":0},"encoding":{}},
{"hconcat":[{"width":160,"height":1,"data":{"values":[{}]},"mark":{"type":"point","opacity":0},"encoding":{}},
{"width":368,"height":159,"data":{"values":[
{"d":"2017-01-03","a":410,"b":12700,"c":6500},{"d":"2017-01-16","a":430,"b":12700,"c":6550},{"d":"2017-02-01","a":440,"b":12600,"c":6300},{"d":"2017-02-16","a":420,"b":12600,"c":6150},{"d":"2017-03-01","a":650,"b":11800,"c":5950},{"d":"2017-03-16","a":660,"b":11600,"c":5850},{"d":"2017-04-01","a":480,"b":11100,"c":5600},{"d":"2017-04-16","a":540,"b":10900,"c":5550},{"d":"2017-05-01","a":620,"b":10750,"c":5650},{"d":"2017-05-16","a":520,"b":10900,"c":5800},{"d":"2017-06-01","a":600,"b":11000,"c":5800},{"d":"2017-06-16","a":560,"b":10900,"c":5750},{"d":"2017-07-01","a":640,"b":10850,"c":5700},{"d":"2017-07-16","a":510,"b":11000,"c":5800},{"d":"2017-08-01","a":620,"b":11000,"c":5800},{"d":"2017-08-16","a":550,"b":11050,"c":5800},{"d":"2017-09-01","a":520,"b":11200,"c":5850},{"d":"2017-09-16","a":620,"b":11300,"c":5750},{"d":"2017-10-01","a":280,"b":11550,"c":5800},{"d":"2017-10-16","a":300,"b":11200,"c":5900},{"d":"2017-11-01","a":260,"b":11500,"c":5800},{"d":"2017-11-16","a":240,"b":11300,"c":5750},{"d":"2017-12-01","a":220,"b":10900,"c":5600},{"d":"2017-12-16","a":190,"b":10700,"c":5400},
{"d":"2018-01-03","a":160,"b":10400,"c":5300},{"d":"2018-01-16","a":-180,"b":10200,"c":5200},{"d":"2018-02-01","a":-170,"b":10200,"c":5250},{"d":"2018-02-16","a":-100,"b":10000,"c":5150},{"d":"2018-03-01","a":-120,"b":10300,"c":5250},{"d":"2018-03-16","a":-60,"b":10100,"c":5200},{"d":"2018-04-01","a":-230,"b":10050,"c":5150},{"d":"2018-04-16","a":-110,"b":9950,"c":5100},{"d":"2018-05-01","a":20,"b":10100,"c":5150},{"d":"2018-05-16","a":-20,"b":10050,"c":5150},{"d":"2018-06-01","a":50,"b":9800,"c":5050},{"d":"2018-06-16","a":-130,"b":9600,"c":4950},{"d":"2018-07-01","a":-80,"b":9300,"c":4950},{"d":"2018-07-16","a":-180,"b":9350,"c":4900},{"d":"2018-08-01","a":-120,"b":9500,"c":5050},{"d":"2018-08-16","a":-60,"b":9550,"c":4950},{"d":"2018-09-01","a":180,"b":9450,"c":4900},{"d":"2018-09-16","a":-60,"b":9300,"c":4850},{"d":"2018-10-01","a":-190,"b":9250,"c":4700},{"d":"2018-10-16","a":-120,"b":9100,"c":4700},{"d":"2018-11-01","a":-60,"b":8800,"c":4550},{"d":"2018-11-16","a":-10,"b":8500,"c":4300},{"d":"2018-12-01","a":-400,"b":8350,"c":4150},{"d":"2018-12-16","a":-390,"b":8500,"c":4150},
{"d":"2019-01-03","a":-350,"b":8950,"c":4350},{"d":"2019-01-16","a":-240,"b":9100,"c":4400},{"d":"2019-02-01","a":-120,"b":9300,"c":4400},{"d":"2019-02-16","a":-160,"b":9100,"c":4300},{"d":"2019-03-01","a":-280,"b":8900,"c":4350},{"d":"2019-03-16","a":-200,"b":8800,"c":4300},{"d":"2019-04-01","a":-300,"b":9050,"c":4350},{"d":"2019-04-16","a":-160,"b":8900,"c":4250},{"d":"2019-05-01","a":-100,"b":8750,"c":4300},{"d":"2019-05-16","a":-250,"b":8900,"c":4300},{"d":"2019-06-01","a":-120,"b":8800,"c":4300},{"d":"2019-06-16","a":-40,"b":8700,"c":4250},{"d":"2019-07-01","a":-220,"b":8600,"c":4350},{"d":"2019-07-16","a":30,"b":9300,"c":4550},{"d":"2019-08-01","a":-60,"b":9650,"c":4650},{"d":"2019-08-16","a":-130,"b":9550,"c":4450},{"d":"2019-09-01","a":90,"b":9500,"c":4500},{"d":"2019-09-16","a":60,"b":9700,"c":4650},{"d":"2019-10-01","a":100,"b":10200,"c":4800},{"d":"2019-10-16","a":180,"b":10600,"c":4850},{"d":"2019-11-01","a":120,"b":10900,"c":5000},{"d":"2019-11-16","a":280,"b":11500,"c":5300},{"d":"2019-12-01","a":330,"b":12000,"c":5800},{"d":"2019-12-16","a":430,"b":12600,"c":6200},
{"d":"2020-01-03","a":500,"b":13100,"c":6700},{"d":"2020-01-16","a":400,"b":12700,"c":6300},{"d":"2020-02-01","a":190,"b":11900,"c":5800},{"d":"2020-02-16","a":100,"b":11000,"c":5200},{"d":"2020-03-01","a":-60,"b":9800,"c":4700},{"d":"2020-03-16","a":-160,"b":9400,"c":4650},{"d":"2020-04-01","a":-90,"b":9300,"c":4650},{"d":"2020-04-16","a":60,"b":9500,"c":4750},{"d":"2020-05-01","a":260,"b":9100,"c":4550},{"d":"2020-05-16","a":500,"b":9000,"c":4650},{"d":"2020-06-01","a":430,"b":9400,"c":4900},{"d":"2020-06-16","a":210,"b":9900,"c":5100},{"d":"2020-07-01","a":90,"b":10200,"c":5300},{"d":"2020-07-16","a":250,"b":10300,"c":5600},{"d":"2020-08-01","a":320,"b":10700,"c":5650},{"d":"2020-08-16","a":360,"b":11200,"c":5900},{"d":"2020-09-01","a":430,"b":11600,"c":6050},{"d":"2020-09-16","a":560,"b":11900,"c":6250},{"d":"2020-10-01","a":420,"b":12400,"c":6400},{"d":"2020-10-16","a":600,"b":12700,"c":6600},{"d":"2020-11-01","a":650,"b":13500,"c":6700},{"d":"2020-11-16","a":480,"b":13300,"c":6850},{"d":"2020-12-01","a":660,"b":13800,"c":7000},{"d":"2020-12-16","a":620,"b":14100,"c":7200},
{"d":"2021-01-03","a":700,"b":14500,"c":7300},{"d":"2021-01-16","a":700,"b":14100,"c":7000},{"d":"2021-02-01","a":760,"b":15300,"c":7800},{"d":"2021-02-16","a":820,"b":16000,"c":8200},{"d":"2021-03-01","a":1000,"b":16500,"c":8600},{"d":"2021-03-16","a":850,"b":15200,"c":8000},{"d":"2021-04-01","a":800,"b":15300,"c":8100},{"d":"2021-04-16","a":880,"b":16000,"c":8500},{"d":"2021-05-01","a":1180,"b":17300,"c":9000},{"d":"2021-05-16","a":1100,"b":17500,"c":9100},{"d":"2021-06-01","a":950,"b":16600,"c":8700},{"d":"2021-06-16","a":800,"b":15500,"c":8400},{"d":"2021-07-01","a":1130,"b":16800,"c":8900},{"d":"2021-07-16","a":1050,"b":17200,"c":9100},{"d":"2021-08-01","a":1000,"b":17000,"c":9000},{"d":"2021-08-16","a":1260,"b":17700,"c":9200},{"d":"2021-09-01","a":1100,"b":17300,"c":9200},{"d":"2021-09-16","a":1330,"b":18100,"c":9500},{"d":"2021-10-01","a":1150,"b":18200,"c":9700},{"d":"2021-10-16","a":1200,"b":18900,"c":10000},{"d":"2021-11-01","a":1040,"b":20300,"c":10500},{"d":"2021-11-16","a":620,"b":19900,"c":10400},{"d":"2021-12-01","a":1360,"b":19300,"c":10000},{"d":"2021-12-16","a":1180,"b":17300,"c":9700},
{"d":"2022-01-03","a":1440,"b":17800,"c":9900},{"d":"2022-01-16","a":1300,"b":18500,"c":10100},{"d":"2022-02-01","a":1440,"b":20800,"c":11000},{"d":"2022-02-16","a":1620,"b":21900,"c":11800},{"d":"2022-03-01","a":1700,"b":25800,"c":13500},{"d":"2022-03-10","a":2060,"b":27200,"c":14400},{"d":"2022-03-20","a":2000,"b":24300,"c":13000},{"d":"2022-04-01","a":2300,"b":23000,"c":12400},{"d":"2022-04-08","a":2430,"b":23500,"c":12600}]},
"encoding":{"x":{"field":"d","type":"temporal","scale":{"domain":["2017-01-03","2022-04-08"],"nice":false},"axis":{"values":["2017-01-03","2018-01-03","2019-01-03","2020-01-03","2021-01-03","2022-01-03"],"format":"%Y-%m-%d","labelAngle":-45,"labelFontSize":13,"labelPadding":11,"grid":false,"title":"数据来源：Wind 资讯","titleX":-42,"titleY":132,"titleFontSize":14}}},
"resolve":{"scale":{"y":"independent","color":"independent"},"legend":{"color":"independent"}},
"layer":[
{"mark":{"type":"bar","width":3.6},"encoding":{"y":{"field":"a","type":"quantitative","scale":{"domain":[-1000,3000],"nice":false},"axis":{"orient":"right","values":[-1000,-500,0,500,1000,1500,2000,2500,3000],"format":",.2f","labelFontSize":13,"labelPadding":10,"grid":false,"title":null}},"color":{"datum":"基差","scale":{"domain":["基差"],"range":["#F9A602"]},"legend":{"legendX":-44,"legendY":228.5,"symbolType":"M-1,-0.22H1V0.22H-1Z","symbolStrokeWidth":0,"labelFontSize":12}}}},
{"mark":{"type":"line","strokeWidth":4.5},"encoding":{"y":{"field":"b","type":"quantitative","scale":{"domain":[0,30000],"nice":false},"axis":{"orient":"left","values":[0,5000,10000,15000,20000,25000,30000],"format":"d","labelFontSize":12.5,"labelPadding":9,"grid":true,"title":null}},"color":{"datum":"期货收盘价(活跃合约):棕榈油","scale":{"domain":["期货收盘价(活跃合约):棕榈油"],"range":["#2E7C6B"]},"legend":{"legendX":33,"legendY":228.5,"labelFontSize":12}}}},
{"mark":{"type":"line","strokeWidth":4.5},"encoding":{"y":{"field":"c","type":"quantitative","scale":{"domain":[0,30000],"nice":false},"axis":null},"color":{"datum":"现货价:棕榈油(24度):广东","scale":{"domain":["现货价:棕榈油(24度):广东"],"range":["#4F81BD"]},"legend":{"legendX":253,"legendY":228.5,"labelFontSize":12}}}}]}],"bounds":"flush","spacing":0,"resolve":{"scale":{"color":"independent"},"legend":{"color":"independent"}}},
{"width":1,"height":39,"data":{"values":[{}]},"mark":{"type":"point","opacity":0},"encoding":{}},
{"hconcat":[{"width":718,"height":1,"data":{"values":[{}]},"mark":{"type":"point","opacity":0},"encoding":{}},
{"width":357,"height":145,"data":{"values":[
{"d":"2017-01-03","a":370,"b":7270,"c":6970},{"d":"2017-01-16","a":330,"b":7250,"c":7000},{"d":"2017-02-01","a":270,"b":7260,"c":7030},{"d":"2017-02-16","a":350,"b":7200,"c":6950},{"d":"2017-03-01","a":370,"b":6900,"c":6650},{"d":"2017-03-16","a":260,"b":6500,"c":6350},{"d":"2017-04-01","a":60,"b":6150,"c":6000},{"d":"2017-04-16","a":-30,"b":6000,"c":5900},{"d":"2017-05-01","a":-220,"b":5950,"c":5850},{"d":"2017-05-16","a":-180,"b":6050,"c":5950},{"d":"2017-06-01","a":-160,"b":5850,"c":5770},{"d":"2017-06-16","a":-120,"b":5800,"c":5750},{"d":"2017-07-01","a":30,"b":6000,"c":5950},{"d":"2017-07-16","a":20,"b":6100,"c":6050},{"d":"2017-08-01","a":-40,"b":6300,"c":6250},{"d":"2017-08-16","a":-90,"b":6400,"c":6380},{"d":"2017-09-01","a":-100,"b":6420,"c":6350},{"d":"2017-09-16","a":-160,"b":6350,"c":6320},{"d":"2017-10-01","a":-240,"b":6150,"c":6100},{"d":"2017-10-16","a":-270,"b":6100,"c":6050},{"d":"2017-11-01","a":-60,"b":6120,"c":6100},{"d":"2017-11-16","a":-20,"b":6020,"c":6000},{"d":"2017-12-01","a":60,"b":5980,"c":5950},{"d":"2017-12-16","a":50,"b":5980,"c":5950},
{"d":"2018-01-03","a":-20,"b":5780,"c":5750},{"d":"2018-01-16","a":-70,"b":5780,"c":5770},{"d":"2018-02-01","a":-90,"b":5750,"c":5760},{"d":"2018-02-16","a":-180,"b":5700,"c":5720},{"d":"2018-03-01","a":-190,"b":5780,"c":5830},{"d":"2018-03-16","a":-170,"b":5800,"c":5800},{"d":"2018-04-01","a":-140,"b":5800,"c":5830},{"d":"2018-04-16","a":-160,"b":5750,"c":5780},{"d":"2018-05-01","a":-110,"b":5780,"c":5800},{"d":"2018-05-16","a":-180,"b":5900,"c":5900},{"d":"2018-06-01","a":-170,"b":5750,"c":5800},{"d":"2018-06-16","a":-130,"b":5800,"c":5800},{"d":"2018-07-01","a":-140,"b":5800,"c":5800},{"d":"2018-07-16","a":-190,"b":5750,"c":5800},{"d":"2018-08-01","a":-170,"b":5530,"c":5570},{"d":"2018-08-16","a":-200,"b":5450,"c":5550},{"d":"2018-09-01","a":-400,"b":5500,"c":5650},{"d":"2018-09-16","a":-370,"b":5700,"c":5830},{"d":"2018-10-01","a":-200,"b":5800,"c":5900},{"d":"2018-10-16","a":-220,"b":5850,"c":5850},{"d":"2018-11-01","a":-170,"b":5800,"c":5830},{"d":"2018-11-16","a":-220,"b":5600,"c":5600},{"d":"2018-12-01","a":-300,"b":5300,"c":5400},{"d":"2018-12-16","a":-340,"b":5150,"c":5320},
{"d":"2019-01-03","a":-420,"b":5100,"c":5300},{"d":"2019-01-16","a":-300,"b":5250,"c":5400},{"d":"2019-02-01","a":-200,"b":5650,"c":5680},{"d":"2019-02-16","a":-130,"b":5700,"c":5680},{"d":"2019-03-01","a":-80,"b":5650,"c":5700},{"d":"2019-03-16","a":-20,"b":5600,"c":5620},{"d":"2019-04-01","a":-110,"b":5480,"c":5520},{"d":"2019-04-16","a":-270,"b":5350,"c":5450},{"d":"2019-05-01","a":-240,"b":5300,"c":5380},{"d":"2019-05-16","a":-150,"b":5250,"c":5360},{"d":"2019-06-01","a":-220,"b":5300,"c":5380},{"d":"2019-06-16","a":-210,"b":5300,"c":5370},{"d":"2019-07-01","a":-240,"b":5350,"c":5480},{"d":"2019-07-16","a":-260,"b":5350,"c":5520},{"d":"2019-08-01","a":-360,"b":6000,"c":6150},{"d":"2019-08-16","a":60,"b":6100,"c":6180},{"d":"2019-09-01","a":90,"b":6080,"c":6120},{"d":"2019-09-16","a":70,"b":6000,"c":6050},{"d":"2019-10-01","a":90,"b":5950,"c":6000},{"d":"2019-10-16","a":130,"b":6200,"c":6300},{"d":"2019-11-01","a":270,"b":6450,"c":6480},{"d":"2019-11-16","a":120,"b":6350,"c":6400},{"d":"2019-12-01","a":370,"b":6600,"c":6600},{"d":"2019-12-16","a":250,"b":6700,"c":6650},
{"d":"2020-01-03","a":320,"b":7150,"c":6950},{"d":"2020-01-16","a":380,"b":6950,"c":6750},{"d":"2020-02-01","a":340,"b":6500,"c":6450},{"d":"2020-02-16","a":260,"b":6000,"c":5950},{"d":"2020-03-01","a":-250,"b":5600,"c":5550},{"d":"2020-03-16","a":-220,"b":5250,"c":5400},{"d":"2020-04-01","a":-120,"b":5450,"c":5520},{"d":"2020-04-16","a":-80,"b":5500,"c":5550},{"d":"2020-05-01","a":150,"b":5200,"c":5330},{"d":"2020-05-16","a":170,"b":5450,"c":5600},{"d":"2020-06-01","a":120,"b":5650,"c":5800},{"d":"2020-06-16","a":230,"b":5700,"c":5830},{"d":"2020-07-01","a":180,"b":5950,"c":6000},{"d":"2020-07-16","a":270,"b":6050,"c":6050},{"d":"2020-08-01","a":400,"b":6500,"c":6450},{"d":"2020-08-16","a":470,"b":6950,"c":6850},{"d":"2020-09-01","a":590,"b":7250,"c":7150},{"d":"2020-09-16","a":450,"b":7600,"c":7450},{"d":"2020-10-01","a":500,"b":7500,"c":7400},{"d":"2020-10-16","a":620,"b":7700,"c":7600},{"d":"2020-11-01","a":560,"b":8200,"c":8000},{"d":"2020-11-16","a":750,"b":8600,"c":8350},{"d":"2020-12-01","a":1000,"b":8900,"c":8400},{"d":"2020-12-16","a":1210,"b":9100,"c":8500},
{"d":"2021-01-03","a":1000,"b":8800,"c":8250},{"d":"2021-01-16","a":860,"b":9200,"c":8700},{"d":"2021-02-01","a":900,"b":9600,"c":9000},{"d":"2021-02-16","a":750,"b":10000,"c":9300},{"d":"2021-03-01","a":840,"b":10400,"c":9600},{"d":"2021-03-16","a":760,"b":9500,"c":9000},{"d":"2021-04-01","a":680,"b":9300,"c":8700},{"d":"2021-04-16","a":780,"b":9700,"c":9100},{"d":"2021-05-01","a":1180,"b":10200,"c":9400},{"d":"2021-05-16","a":1010,"b":10000,"c":9300},{"d":"2021-06-01","a":820,"b":9200,"c":8800},{"d":"2021-06-16","a":640,"b":9000,"c":8500},{"d":"2021-07-01","a":610,"b":9200,"c":8700},{"d":"2021-07-16","a":540,"b":9600,"c":9000},{"d":"2021-08-01","a":320,"b":9700,"c":9000},{"d":"2021-08-16","a":250,"b":9200,"c":8700},{"d":"2021-09-01","a":560,"b":9300,"c":8900},{"d":"2021-09-16","a":700,"b":9400,"c":9100},{"d":"2021-10-01","a":800,"b":9750,"c":9400},{"d":"2021-10-16","a":860,"b":9900,"c":9350},{"d":"2021-11-01","a":840,"b":10300,"c":9800},{"d":"2021-11-16","a":890,"b":10900,"c":10200},{"d":"2021-12-01","a":1340,"b":10100,"c":9800},{"d":"2021-12-16","a":760,"b":9400,"c":8900},
{"d":"2022-01-03","a":680,"b":9200,"c":8800},{"d":"2022-01-16","a":860,"b":9800,"c":9300},{"d":"2022-02-01","a":940,"b":10200,"c":9700},{"d":"2022-02-16","a":1040,"b":11000,"c":10300},{"d":"2022-03-01","a":1160,"b":12000,"c":11200},{"d":"2022-03-10","a":980,"b":12300,"c":11400},{"d":"2022-03-20","a":1120,"b":11500,"c":10700},{"d":"2022-04-01","a":880,"b":11000,"c":10200},{"d":"2022-04-08","a":620,"b":11100,"c":10400}]},
"encoding":{"x":{"field":"d","type":"temporal","scale":{"domain":["2017-01-03","2022-04-08"],"nice":false},"axis":{"values":["2017-01-03","2018-01-03","2019-01-03","2020-01-03","2021-01-03","2022-01-03"],"format":"%Y-%m-%d","labelAngle":-45,"labelFontSize":12.5,"labelPadding":9,"grid":false,"title":"数据来源：Wind 资讯","titleX":-68,"titleY":107,"titleFontSize":14}}},
"resolve":{"scale":{"y":"independent","color":"independent"},"legend":{"color":"independent"}},
"layer":[
{"mark":{"type":"bar","width":3.4},"encoding":{"y":{"field":"a","type":"quantitative","scale":{"domain":[-600,1600],"nice":false},"axis":{"orient":"right","values":[-600,-400,-200,0,200,400,600,800,1000,1200,1400,1600],"format":",.2f","labelFontSize":12.5,"labelPadding":9,"grid":false,"title":null}},"color":{"datum":"基差","scale":{"domain":["基差"],"range":["#42AE99"]},"legend":{"legendX":-48,"legendY":-49.5,"symbolType":"M-1,-0.22H1V0.22H-1Z","symbolStrokeWidth":0,"labelFontSize":12}}}},
{"mark":{"type":"line","strokeWidth":4.5},"encoding":{"y":{"field":"b","type":"quantitative","scale":{"domain":[0,14000],"nice":false},"axis":{"orient":"left","values":[0,2000,4000,6000,8000,10000,12000,14000],"format":",.2f","labelFontSize":12.5,"labelPadding":9,"grid":true,"title":"元/吨","titleAngle":0,"titleX":-62,"titleY":-15,"titleFontSize":12,"titleFontWeight":"bold","titleColor":"#222222"}},"color":{"datum":"现货价:四级豆油:张家港","scale":{"domain":["现货价:四级豆油:张家港"],"range":["#F79F0F"]},"legend":{"legendX":40,"legendY":-49.5,"labelFontSize":12}}}},
{"mark":{"type":"line","strokeWidth":4.5},"encoding":{"y":{"field":"c","type":"quantitative","scale":{"domain":[0,14000],"nice":false},"axis":null},"color":{"datum":"期货收盘价(活跃合约):豆油","scale":{"domain":["期货收盘价(活跃合约):豆油"],"range":["#2E7C6B"]},"legend":{"legendX":224,"legendY":-49.5,"labelFontSize":12}}}}]}],"bounds":"flush","spacing":0,"resolve":{"scale":{"color":"independent"},"legend":{"color":"independent"}}},
{"width":100,"height":505,"title":{"text":"请务必阅读正文之后的免责声明","dx":190,"dy":556,"fontSize":21,"fontWeight":300,"color":"#5B6475"},"data":{"values":[{"a":0,"b":1}]},"mark":{"type":"rule","color":"#333333","strokeWidth":1.2},"encoding":{"x":{"field":"a","type":"quantitative","scale":{"domain":[0,1],"range":[88,1156]},"axis":null},"x2":{"field":"b"},"y":{"datum":0,"type":"quantitative","scale":{"domain":[0,1]},"axis":null}}}
]}
